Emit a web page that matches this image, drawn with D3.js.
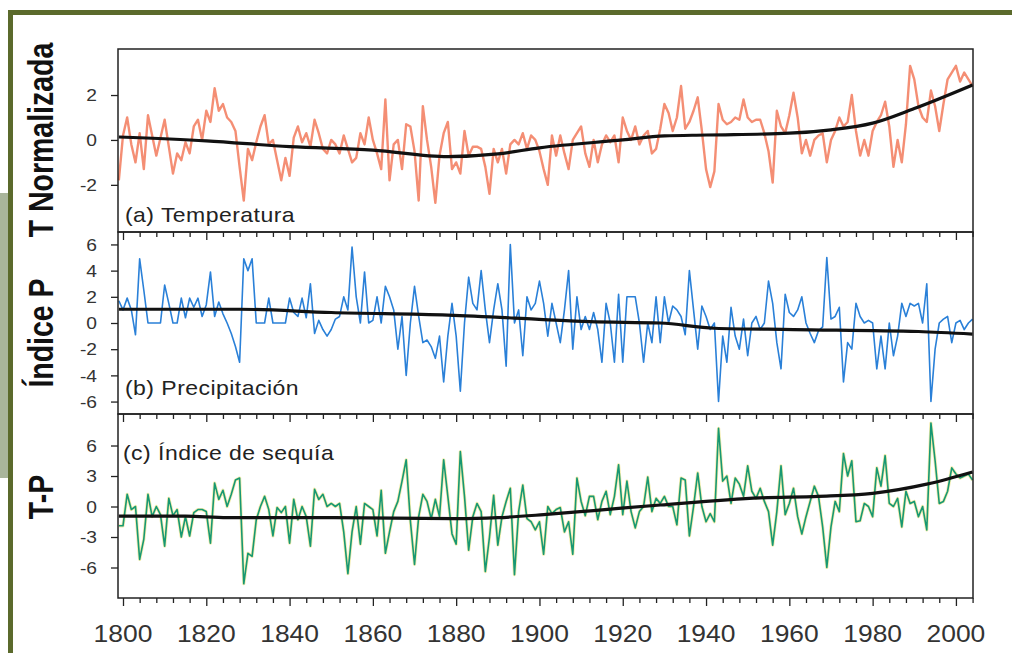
<!DOCTYPE html>
<html>
<head>
<meta charset="utf-8">
<script src="https://cdn.jsdelivr.net/npm/d3@7"></script>
<style>
  body { margin: 0; background: #fff; }
  svg { display: block; }
  text { font-family: "Liberation Sans", Arial, sans-serif; }
</style>
</head>
<body>
<script>
// anual, desde 1799 hasta 2004
var startYear = 1799

var tempVals = [-1.8,
  0.2, 1.0, -0.2, -1.0, 0.3, -1.3, 1.1, 0.2, -0.7, 0.1,
  0.9, -0.3, -1.5, -0.6, -0.9, -0.1, -0.6, 0.6, 0.9, 0.0,
  1.3, 0.8, 2.3, 1.3, 1.6, 1.0, 0.8, 0.4, -1.2, -2.7,
  -0.4, -0.9, -0.1, 0.6, 1.1, -0.2, 0.0, -0.9, -1.8, -0.8,
  -1.6, 0.1, 0.6, -0.1, 0.3, -0.3, 0.9, 0.3, -0.4, -0.6,
  0.0, -0.2, -0.6, 0.2, -0.4, -1.0, -0.8, 0.3, -0.2, 1.0,
  0.0, -0.6, -1.3, 1.8, -1.8, -0.2, 0.0, -1.3, 0.7, 0.6,
  -0.5, -2.7, 1.5, 0.0, -1.2, -2.8, -0.7, 0.3, 0.8, -1.3,
  -1.0, -1.5, 0.4, -0.7, -0.3, -0.3, -0.4, -1.2, -2.4, -0.4,
  -1.0, -0.4, -1.5, -0.2, 0.0, -0.2, 0.3, -0.4, 0.2, 0.0,
  -0.5, -1.3, -2.0, 0.2, -0.7, 0.2, -0.6, -1.3, 0.0, 0.3,
  0.6, -0.6, -1.2, 0.0, -1.0, -0.2, 0.2, -0.1, 0.2, -1.0,
  1.0, 0.4, 0.0, 0.6, -0.2, 0.2, 0.4, -0.6, -0.4, 0.5,
  1.6, 1.2, 0.4, 1.0, 2.4, 0.5, 0.8, 1.3, 1.9, 0.4,
  -1.3, -2.1, -1.4, 1.6, 0.9, 0.7, 0.8, 1.0, 0.9, 1.8,
  1.0, 0.8, 0.9, 0.9, 0.3, -0.5, -1.9, 1.3, 0.6, 0.3,
  1.1, 2.1, 1.0, -0.6, 0.0, -0.7, 0.0, 0.2, 0.3, -1.0,
  0.0, 0.4, 1.0, 0.6, 0.8, 2.0, 0.4, -0.7, 0.0, -0.7,
  0.4, 0.8, 1.1, 1.7, 0.6, -1.2, 0.0, -1.0, 0.7, 3.3,
  2.7, 1.5, 1.0, 0.8, 2.2, 1.5, 0.4, 1.6, 2.7, 3.0,
  3.3, 2.6, 3.0, 2.7, 2.4]

var precVals = [1.7,
  1.0, 1.9, 1.0, -0.9, 4.9, 2.5, 0.0, 0.0, 0.0, 0.0,
  2.9, 1.5, 0.0, 0.0, 1.9, 0.4, 1.9, 1.2, 1.9, 0.5,
  1.4, 3.9, 0.5, 1.6, 0.7, 0.0, -0.8, -1.8, -3.0, 4.9,
  4.0, 4.9, 0.0, 0.0, 0.0, 1.9, 0.0, 0.0, 0.0, 0.0,
  1.9, 0.8, 0.5, 1.9, 0.4, 3.0, -0.8, 0.2, -0.5, -1.0,
  -0.5, 0.3, 0.5, 2.0, 1.0, 5.8, 2.0, 0.0, 3.9, 0.0,
  0.2, 2.0, 0.0, 2.8, 2.0, 1.0, -2.0, 0.5, -4.0, 0.0,
  2.8, 0.5, -1.5, -1.3, -1.8, -2.7, -1.0, -4.5, -1.0, 1.5,
  -1.0, -5.2, 0.0, 3.5, 1.5, 1.0, 4.0, 1.0, -1.5, 1.0,
  3.0, 1.0, -3.3, 6.0, 0.0, 1.0, -2.5, 2.0, 1.0, 1.5,
  3.2, 1.5, -1.0, 1.5, 0.0, -1.5, 1.0, 4.0, -2.0, 2.0,
  -0.5, 0.5, -0.5, 0.8, -0.5, -3.0, 1.5, 0.0, -3.0, 2.2,
  -3.0, 2.0, 2.0, 2.0, 0.0, -3.0, 0.0, -1.5, 2.0, -1.5,
  2.0, 0.0, 1.3, 1.0, 0.5, -0.9, 4.0, 1.0, -2.0, 1.3,
  0.5, -0.5, 0.0, -6.0, -1.0, -3.0, 1.2, -1.0, -2.0, 0.3,
  -2.5, 0.0, 0.5, -0.5, 0.0, 3.2, 1.5, -1.5, -3.5, 2.2,
  0.8, 0.5, 1.0, 2.0, 0.0, -0.8, -1.5, -0.6, -0.3, 5.0,
  0.3, 0.5, 1.2, -4.5, -1.5, -2.0, 1.5, 0.5, 0.0, 0.2,
  0.0, -3.5, -1.0, -3.5, 0.0, -2.5, -1.0, 1.5, 0.5, 1.5,
  1.3, 1.5, 0.0, 3.0, -6.0, -2.0, 0.0, 0.3, 0.5, -1.5,
  0.0, 0.2, -0.5, 0.0, 0.3]

var seqVals = [-1.9,
  -1.9, 1.2, -0.3, 0.0, -5.2, -3.2, 1.2, -1.0, 0.0, -0.8,
  -3.9, 0.8, -0.9, -0.3, -3.0, -1.0, -2.9, -0.6, -0.3, -0.3,
  -0.5, -3.6, 2.3, 0.7, 1.6, 0.0, 1.2, 2.6, 2.8, -7.6,
  -4.6, -4.9, -1.3, 0.0, 1.0, -0.3, -2.9, -0.1, -0.6, 0.0,
  -3.6, 0.7, -1.3, 0.0, -1.0, -3.9, 1.7, 0.7, 1.2, 0.0,
  0.3, 0.0, 0.3, -2.5, -6.6, -2.5, 0.0, -3.7, 0.3, 0.0,
  -0.3, -2.9, 1.6, -4.6, -2.5, -0.5, 0.5, 2.5, 4.6, -1.4,
  -5.7, -1.0, 1.2, 0.5, -1.2, 0.7, -1.0, 4.6, 1.0, -2.7,
  -3.7, 5.4, 1.0, -4.3, -1.0, 0.3, -0.5, -6.4, -3.0, 1.1,
  -3.8, -1.0, 0.5, 1.8, -6.7, -0.5, 2.1, -1.2, -1.5, -2.3,
  -1.5, -4.7, 0.0, -0.7, -0.3, -0.1, -2.5, -1.5, -4.7, 2.8,
  0.5, -0.9, 1.0, 1.0, -1.3, 0.5, 1.5, -0.8, 1.0, 4.1,
  -0.8, 2.5, -0.5, -2.1, -0.5, 0.0, 2.9, -0.5, 0.8, 0.3,
  1.0, 0.0, 0.0, -1.8, 2.8, 2.6, -2.9, 0.0, 3.3, 0.0,
  -1.5, -0.7, -1.5, 7.7, 2.5, 3.0, 0.3, 2.8, 2.2, 1.0,
  4.0, 1.5, 0.8, 1.8, 0.5, -0.5, -3.8, -0.5, 4.0, -0.8,
  0.3, 1.8, -1.0, -2.7, -1.0, 0.5, 2.0, 1.0, -2.0, -6.0,
  -2.0, 0.5, -0.5, 5.2, 3.0, 4.5, -1.5, -1.4, 0.3, 0.0,
  -1.0, 3.8, 2.0, 5.0, 0.3, 0.0, 0.8, -2.0, 1.5, 0.3,
  0.5, -1.0, 0.0, -2.3, 8.2, 4.5, 0.3, 0.5, 1.5, 3.8,
  3.2, 2.8, 3.0, 3.2, 2.6]

// tendencias (linea negra)
var tempTrendYears = [1799, 1820, 1840, 1860, 1878, 1890, 1900, 1920, 1930, 1940, 1960, 1970, 1980, 1990, 2004]
var tempTrendVals  = [0.13, -0.04, -0.3, -0.45, -0.74, -0.62, -0.35, 0.0, 0.18, 0.22, 0.3, 0.45, 0.75, 1.4, 2.45]
var precTrendYears = [1799, 1828, 1850, 1878, 1899, 1912, 1929, 1942, 1961, 1991, 2004]
var precTrendVals  = [1.05, 1.05, 0.8, 0.6, 0.3, 0.1, 0.0, -0.4, -0.5, -0.65, -0.85]
var seqTrendYears = [1799, 1815, 1825, 1850, 1880, 1890, 1901, 1913, 1929, 1953, 1967, 1980, 1993, 2004]
var seqTrendVals  = [-0.95, -0.95, -1.1, -1.1, -1.2, -1.1, -0.8, -0.4, 0.15, 0.85, 1.0, 1.3, 2.2, 3.4]

var xTicks = d3.range(1800, 2005, 4)
var xLabels = [1800, 1820, 1840, 1860, 1880, 1900, 1920, 1940, 1960, 1980, 2000]

var tempTicks = [-2, 0, 2]
var precTicks = [-6, -4, -2, 0, 2, 4, 6]
var seqTicks = [-6, -3, 0, 3, 6]

var width = 1012
var height = 653

var svg = d3.select("body").append("svg")
    .attr("width", width)
    .attr("height", height)

// un poco de desenfoque como en la figura escaneada
svg.append("defs").append("filter").attr("id", "blando")
    .append("feGaussianBlur").attr("stdDeviation", 0.45)

// marco verde de la diapositiva
svg.append("rect").attr("x", 0).attr("y", 193).attr("width", 8).attr("height", 285).attr("fill", "#a9b59b")
svg.append("rect").attr("x", 8).attr("y", 10).attr("width", 1010).attr("height", 5).attr("fill", "#5b6a2c")
svg.append("rect").attr("x", 8).attr("y", 10).attr("width", 5).attr("height", 650).attr("fill", "#5b6a2c")

var x = d3.scaleLinear().domain([1798.8, 2004.1]).range([118, 973])

var panels = [
  {vals: tempVals, tYears: tempTrendYears, tVals: tempTrendVals, ticks: tempTicks, domain: [-4.1, 4.05],
   top: 49, bottom: 232, color: "#f27a5c", lw: 2.4, title: "T Normalizada", titleY: 140,
   label: "(a) Temperatura", labelY: 222},
  {vals: precVals, tYears: precTrendYears, tVals: precTrendVals, ticks: precTicks, domain: [-6.95, 6.95],
   top: 232, bottom: 414, color: "#2a80d8", lw: 1.6, title: "Índice P", titleY: 333,
   label: "(b) Precipitación", labelY: 395},
  {vals: seqVals, tYears: seqTrendYears, tVals: seqTrendVals, ticks: seqTicks, domain: [-9.0, 9.1],
   top: 414, bottom: 598, color: "#179873", lw: 1.6, title: "T-P", titleY: 497,
   label: "(c) Índice de sequía", labelY: 460}
]

panels.forEach(function(p, k) {
    var y = d3.scaleLinear().domain(p.domain).range([p.bottom, p.top])
    var g = svg.append("g")

    // eje y
    var yAxis = g.append("g")
        .attr("transform", "translate(118,0)")
        .call(d3.axisLeft(y).tickValues(p.ticks).tickSize(7).tickSizeOuter(0)
            .tickFormat(function(d) { return String(d) }))
    yAxis.select(".domain").remove()
    yAxis.selectAll("line").attr("stroke", "#222").attr("stroke-width", 1.3)
    yAxis.selectAll("text")
        .attr("x", 0).attr("dy", "0.36em")
        .attr("transform", "translate(-21,0) scale(1.2,1)")
        .attr("font-size", 16).attr("fill", "#333")
        .style("font-family", "'Liberation Sans', Arial, sans-serif")

    // eje x
    var xAxis = g.append("g")
        .attr("transform", "translate(0," + p.bottom + ")")
        .call(d3.axisBottom(x).tickValues(xTicks).tickSize(5).tickSizeOuter(0).tickFormat(""))
    xAxis.select(".domain").remove()
    xAxis.selectAll("line")
        .attr("y2", function(d) { return d % 20 == 0 ? 8 : 5 })
        .attr("stroke", "#222").attr("stroke-width", 1.3)

    // serie anual
    var line = d3.line()
        .x(function(d, i) { return x(startYear + i) })
        .y(function(d) { return y(d) })
    if (k == 2) {
        g.append("path").datum(p.vals).attr("d", line)
            .attr("fill", "none").attr("stroke", "#e9dc6a").attr("stroke-opacity", 0.55)
            .attr("stroke-width", 3.2).attr("stroke-linejoin", "round")
    }
    g.append("path").datum(p.vals).attr("d", line)
        .attr("fill", "none").attr("stroke", p.color)
        .attr("stroke-opacity", k == 0 ? 0.85 : 1)
        .attr("stroke-width", p.lw).attr("stroke-linejoin", "round")
        .attr("filter", k == 0 ? "url(#blando)" : null)

    // tendencia
    var trend = d3.line()
        .x(function(d, i) { return x(p.tYears[i]) })
        .y(function(d) { return y(d) })
        .curve(d3.curveMonotoneX)
    g.append("path").datum(p.tVals).attr("d", trend)
        .attr("fill", "none").attr("stroke", "#111").attr("stroke-width", 3.2)

    // marco del panel
    g.append("rect")
        .attr("x", 118).attr("y", p.top)
        .attr("width", 973 - 118).attr("height", p.bottom - p.top)
        .attr("fill", "none").attr("stroke", "#222").attr("stroke-width", 1.5)

    g.append("text")
        .attr("transform", "translate(" + (k == 2 ? 123 : 125) + "," + p.labelY + ") scale(1.15,1)")
        .attr("font-size", 20).attr("fill", "#222").attr("letter-spacing", 0.4)
        .text(p.label)

    g.append("text")
        .attr("transform", "translate(53," + p.titleY + ") rotate(-90) scale(1,1.22)")
        .attr("text-anchor", "middle")
        .attr("font-size", 28.5).attr("font-weight", "bold").attr("fill", "#111")
        .text(p.title)
})

// etiquetas de años
svg.selectAll(".yearLabel")
    .data(xLabels)
    .enter().append("text")
    .attr("class", "yearLabel")
    .attr("transform", function(d) { return "translate(" + x(d) + ",642) scale(1.15,1)" })
    .attr("text-anchor", "middle")
    .attr("font-size", 23).attr("fill", "#333")
    .text(function(d) { return d })
</script>
</body>
</html>
